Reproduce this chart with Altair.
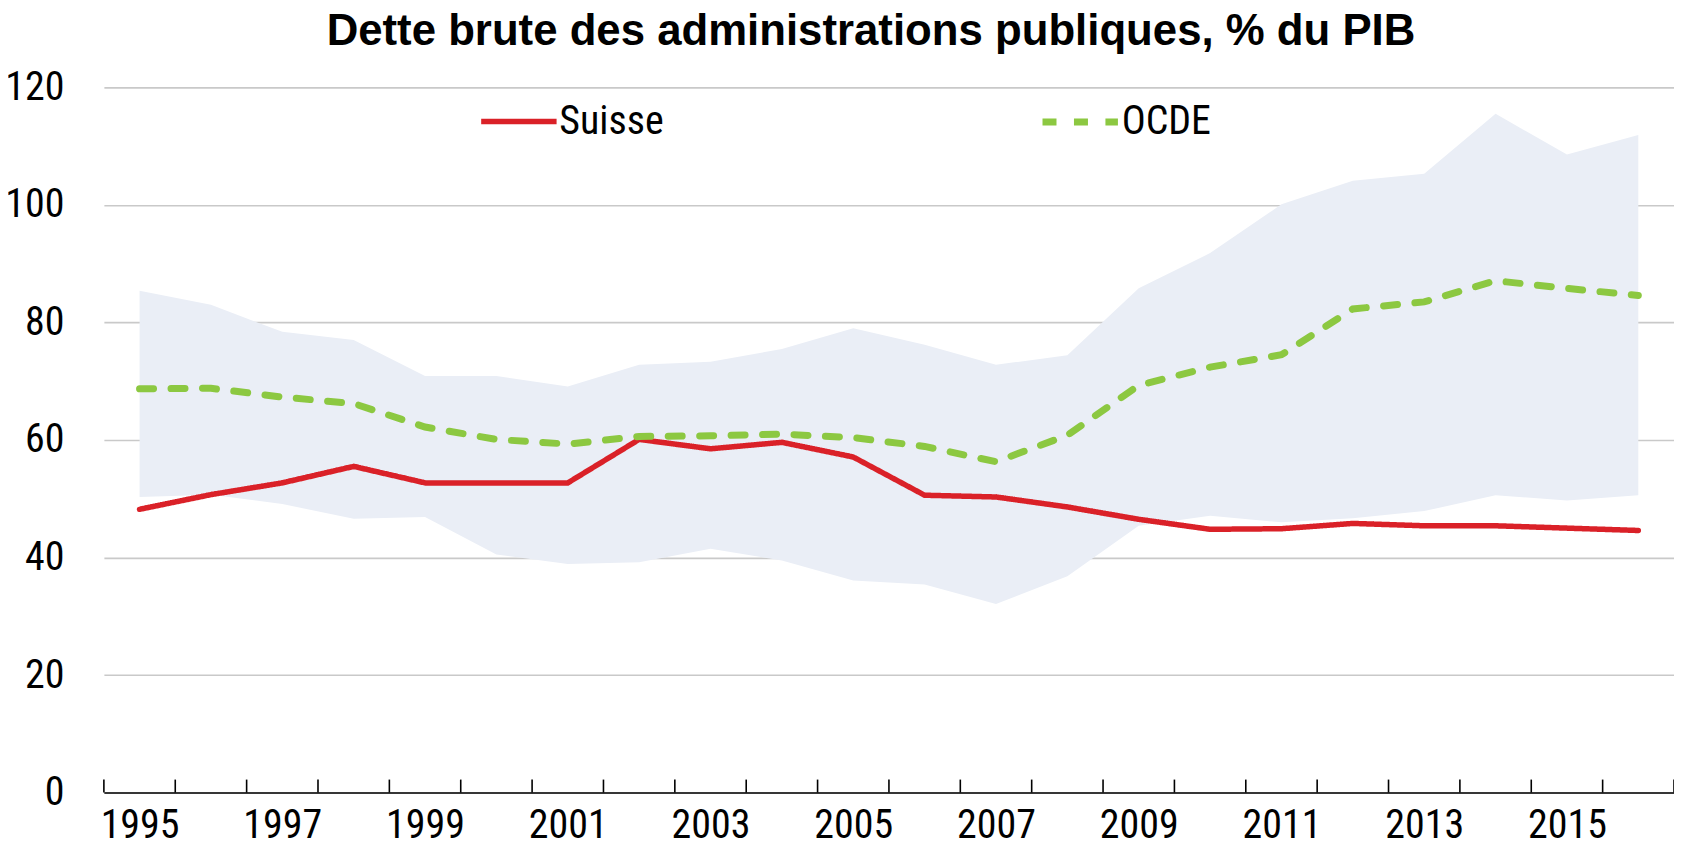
import altair as alt
import pandas as pd

# ---- data ----
years = list(range(1995, 2017))
suisse = [48.2, 50.7, 52.7, 55.5, 52.7, 52.7, 52.7, 60.1, 58.5, 59.6, 57.1, 50.6,
          50.3, 48.6, 46.5, 44.8, 44.9, 45.8, 45.4, 45.4, 45.0, 44.6]
ocde = [68.7, 68.8, 67.3, 66.2, 62.2, 60.1, 59.3, 60.6, 60.7, 61.0, 60.4, 58.9,
        56.3, 60.8, 69.3, 72.4, 74.5, 82.3, 83.5, 87.1, 85.8, 84.6]
band_upper = [85.4, 83.0, 78.4, 77.0, 70.9, 70.9, 69.1, 72.8, 73.3, 75.5, 79.0, 76.2,
              72.8, 74.4, 85.8, 91.8, 100.1, 104.1, 105.3, 115.5, 108.6, 111.9]
band_lower = [50.3, 50.7, 49.1, 46.6, 46.9, 40.5, 38.9, 39.2, 41.5, 39.5, 36.1, 35.4,
              32.1, 36.8, 45.4, 47.1, 46.0, 46.7, 47.9, 50.6, 49.7, 50.6]
series_names = ["Suisse", "OCDE"]
title_text = "Dette brute des administrations publiques, % du PIB"
y_ticks = [0, 20, 40, 60, 80, 100, 120]
label_years = [y for y in years if y % 2 == 1]
boundaries = [y - 0.5 for y in years] + [years[-1] + 0.5]

NARROW = ("Liberation Sans Narrow, Arial Narrow, Roboto Condensed, "
          "Liberation Sans, sans-serif")
BOLD = "Liberation Sans, Arial, sans-serif"
FS = 40
FW = 400
W, H = 1572, 706

band_df = pd.DataFrame({"year": years, "lower": band_lower, "upper": band_upper})
lines_df = pd.DataFrame({
    "year": years * 2,
    "value": suisse + ocde,
    "series": [series_names[0]] * len(years) + [series_names[1]] * len(years),
})
ticks_df = pd.DataFrame({"edge": boundaries, "base": [0] * len(boundaries)})

x_scale = alt.Scale(domain=[boundaries[0], boundaries[-1]], nice=False, zero=False)
y_scale = alt.Scale(domain=[0, 120], nice=False)

area = alt.Chart(band_df).mark_area(color="#EAEEF6", opacity=1).encode(
    x=alt.X("year:Q", scale=x_scale,
            axis=alt.Axis(orient="bottom", values=label_years, format="d", title=None,
                          ticks=False, tickSize=0, labelPadding=13, grid=False,
                          domain=True, domainColor="#000000", domainWidth=1.6,
                          labelFontSize=FS, labelFont=NARROW, labelFontWeight=FW,
                          labelColor="#000000", labelOverlap=False, labelFlush=False)),
    y=alt.Y("lower:Q", scale=y_scale,
            axis=alt.Axis(values=y_ticks, title=None, domain=False, ticks=False, tickSize=0,
                          labelPadding=40, grid=True, gridColor="#C9C9C9", gridWidth=1.6,
                          labelFontSize=FS, labelFont=NARROW, labelFontWeight=FW,
                          labelColor="#000000")),
    y2="upper:Q",
)

lines = alt.Chart(lines_df).mark_line(strokeCap="round").encode(
    x=alt.X("year:Q", scale=x_scale),
    y=alt.Y("value:Q", scale=y_scale),
    color=alt.Color("series:N",
                    scale=alt.Scale(domain=series_names, range=["#DA2128", "#8CC841"]),
                    legend=alt.Legend(title=None)),
    strokeDash=alt.StrokeDash("series:N",
                              scale=alt.Scale(domain=series_names, range=[[1, 0], [14, 17.5]]),
                              legend=alt.Legend(title=None)),
    strokeWidth=alt.StrokeWidth("series:N",
                                scale=alt.Scale(domain=series_names, range=[5.5, 7]),
                                legend=alt.Legend(title=None)),
    order=alt.Order("year:Q"),
)

ticks = alt.Chart(ticks_df).mark_rule(color="#000000", strokeWidth=1.6).encode(
    x=alt.X("edge:Q", scale=x_scale),
    y=alt.Y("base:Q", scale=y_scale),
    y2=alt.value(H - 13),
)

chart = alt.layer(area, ticks, lines).properties(
    width=W, height=H,
    autosize=alt.AutoSizeParams(type="none"),
    padding={"left": 96, "top": 79, "right": 0, "bottom": 50},
    title=alt.TitleParams(title_text, font=BOLD, fontSize=43.8, fontWeight="bold",
                          color="#000000", anchor="middle", dx=-18, offset=14),
).configure_view(stroke=None).configure_legend(
    orient="none", legendX=375, legendY=-7, direction="horizontal",
    symbolType="stroke", symbolSize=5700, labelFontSize=FS, labelFont=NARROW,
    labelFontWeight=FW, labelColor="#000000", labelOffset=0, columnPadding=364,
    padding=0, labelLimit=400,
)

chart.save("out.html", embed_options={"renderer": "svg", "actions": False})
